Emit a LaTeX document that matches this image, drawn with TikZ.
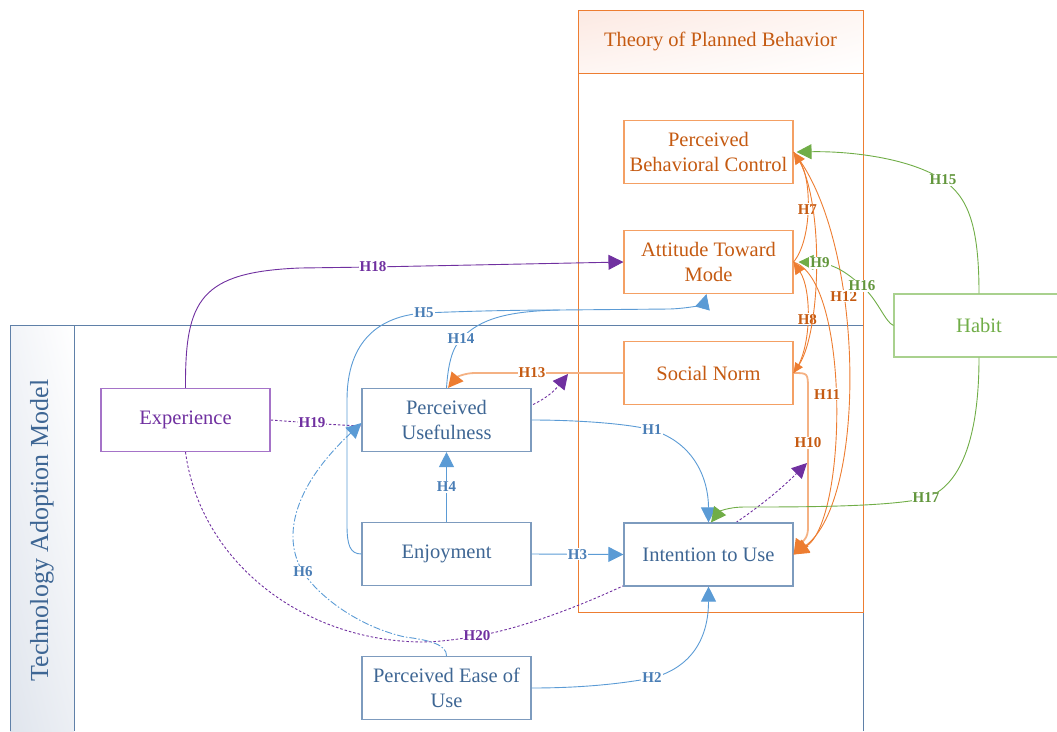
\documentclass[tikz,border=0pt]{standalone}
\usepackage{fontspec}
\setmainfont{Liberation Serif}
\usetikzlibrary{arrows.meta,shadings,backgrounds}
\definecolor{boxblue}{RGB}{125,155,190}
\definecolor{txtblue}{RGB}{62,102,148}
\definecolor{lineblue}{RGB}{91,155,213}
\definecolor{lblblue}{RGB}{74,126,182}
\definecolor{tamblue}{RGB}{95,128,168}
\definecolor{lineor}{RGB}{237,125,49}
\definecolor{lightor}{RGB}{244,177,131}
\definecolor{txtor}{RGB}{197,90,17}
\definecolor{boxor}{RGB}{244,160,100}
\definecolor{hdror}{RGB}{252,233,226}
\definecolor{hdrmid}{RGB}{254,246,243}
\definecolor{purp}{RGB}{112,48,160}
\definecolor{boxpurp}{RGB}{165,115,200}
\definecolor{grn}{RGB}{112,173,71}
\definecolor{boxgrn}{RGB}{169,209,142}
\definecolor{lblgrn}{RGB}{98,150,60}
\definecolor{stripa}{RGB}{242,244,248}
\definecolor{stripb}{RGB}{224,229,237}
\definecolor{stripc}{RGB}{236,239,244}
\begin{document}
\begin{tikzpicture}[x=1pt,y=-1pt,
  basebox/.style={draw,line width=1.1pt,fill=white,minimum width=169pt,minimum height=63pt,inner sep=0pt,align=center,font=\fontsize{20.5}{25}\selectfont},
  bluebox/.style={basebox,draw=boxblue,text=txtblue},
  orbox/.style={basebox,draw=boxor,text=txtor},
  purpbox/.style={basebox,draw=boxpurp,text=purp},
  grnbox/.style={basebox,draw=boxgrn,text=grn,minimum width=170pt},
  lbl/.style={fill=white,inner sep=1pt,font=\bfseries\fontsize{15}{16}\selectfont},
  bll/.style={lbl,text=lblblue},
  orl/.style={lbl,text=txtor},
  grl/.style={lbl,text=lblgrn},
  pul/.style={lbl,text=purp},
  bline/.style={draw=lineblue,line width=0.9pt},
  oline/.style={draw=lineor,line width=0.9pt},
  lline/.style={draw=lightor,line width=1.8pt},
  gline/.style={draw=grn,line width=0.9pt},
  pline/.style={draw=purp,line width=0.9pt,dash pattern=on 2.5pt off 2pt},
  bigtip/.style={-{Triangle[length=15pt,width=15pt]}},
  bigotip/.style={-{Triangle[length=15pt,width=15pt,color=lineor]}},
  midtip/.style={-{Triangle[length=12pt,width=11pt]}},
  smalltip/.style={-{Triangle[length=10pt,width=9pt]}},
]
\useasboundingbox (0,0) rectangle (1057,731);
\clip (0,0) rectangle (1057,731);

% nodes
\node[orbox] (PBC) at (708.5,152) {Perceived\\Behavioral Control};
\node[orbox] (ATM) at (708.5,262) {Attitude Toward\\Mode};
\node[orbox] (SN) at (708.5,373) {Social Norm};
\node[bluebox] (ITU) at (708.5,554.5) {Intention to Use};
\node[bluebox] (PU) at (446.5,420) {Perceived\\Usefulness};
\node[bluebox] (ENJ) at (446.5,554) {Enjoyment};
\node[bluebox] (PEOU) at (446.5,688) {Perceived Ease of\\Use};
\node[purpbox] (EXP) at (185.5,420) {Experience};
\node[grnbox] (HAB) at (979,325.5) {Habit};

\begin{scope}[on background layer]
  % Technology Adoption Model container
  \shade[upper left=stripa,lower left=stripb,upper right=white,lower right=stripc] (10,325) rectangle (74,731);
  \draw[tamblue,line width=1pt] (10,731) -- (10,325) -- (863,325) -- (863,731);
  \draw[tamblue,line width=1pt] (74,325) -- (74,731);
  \node[text=txtblue,rotate=90,font=\fontsize{26}{30}\selectfont] (tamt) at (42,530.5) {Technology Adoption Model};
  % Theory of Planned Behavior container
  \shade[upper left=hdror,lower left=hdrmid,upper right=hdrmid,lower right=white] (578,10) rectangle (863,73);
  \draw[lineor,line width=1pt] (578,10) rectangle (863,612);
  \draw[lineor,line width=1pt] (578,73) -- (863,73);
  \node[text=txtor,font=\fontsize{20.5}{25}\selectfont] (tpbt) at (720.5,41.5) {Theory of Planned Behavior};
  % H19, H20 run behind the boxes
  \draw[pline,bigtip] (EXP.east) -- (312,423) node[pul]{H19} .. controls (460,435) and (535,415) .. (568,374);
  \draw[pline,bigtip] (EXP.south) .. controls (200,560) and (300,640) .. (420,642) .. controls (440,642) and (460,639) .. (477,636) node[pul]{H20} .. controls (560,622) and (720,550) .. (807,463);
\end{scope}

% TAM connectors
\draw[bline,bigtip] (PU.east) .. controls (580,420) and (630,424) .. (652,430) node[bll]{H1} .. controls (695,443) and (708.5,480) .. (ITU.north);
\draw[bline,bigtip] (PEOU.east) .. controls (580,688) and (620,684) .. (652,678) node[bll]{H2} .. controls (690,668) and (708.5,640) .. (ITU.south);
\draw[bline,bigtip] (ENJ.east) -- node[bll]{H3} (ITU.west);
\draw[bline,bigtip] (ENJ.north) -- node[bll]{H4} (PU.south);
\draw[bline,bigtip] (ENJ.west) .. controls (350,554) and (347,545) .. (347,525) -- (347,400) .. controls (347,340) and (380,316) .. (424,313) node[bll]{H5} .. controls (470,311) and (520,310) .. (560,310) -- (670,309) .. controls (695,308) and (704,303) .. ([xshift=-2pt]ATM.south);
\draw[bline] (PU.north) .. controls (448,365) and (452,348) .. (461,339) node[bll]{H14} .. controls (480,318) and (510,311) .. (560,310);
\draw[bline,dash pattern=on 7pt off 2pt on 1.5pt off 2pt,bigtip] (PEOU.north) .. controls (447,645) and (430,640) .. (405,637) .. controls (360,627) and (320,598) .. (303,572) node[bll]{H6} .. controls (283,540) and (290,490) .. ([yshift=-3pt]PU.west);

% TPB connectors
\draw[lline,bigotip] (SN.west) -- (532,373) node[orl]{H13} -- (475,373) .. controls (465,373) and (457,377) .. ([xshift=1.5pt]PU.north);
\draw[lline,bigotip] (SN.east) .. controls (808,373) .. (808,390) -- (808,443) node[orl]{H10} -- (808,528) .. controls (808,538) and (803,541) .. (ITU.east);
\draw[oline,midtip] (ATM.east) .. controls (812,240) and (812,180) .. (PBC.east) node[orl,pos=0.5]{H7};
\draw[oline,midtip] (SN.east) .. controls (812,350) and (812,290) .. (ATM.east) node[orl,pos=0.5]{H8};
\draw[oline,bigtip] (ATM.east) .. controls (850,280) and (848,520) .. (ITU.east) node[orl,pos=0.48,xshift=-8pt]{H11};
\draw[oline,bigtip] (PBC.east) .. controls (865,240) and (868,500) .. (ITU.east) node[orl,pos=0.36]{H12};

% Habit connectors
\draw[gline,bigtip] (HAB.north) .. controls (979,225) and (968,197) .. (943,180) node[grl]{H15} .. controls (910,158) and (850,151) .. ([xshift=3pt]PBC.east);
\draw[gline,bigtip] (HAB.west) .. controls (885,322) and (878,300) .. (862,286) node[grl]{H16} .. controls (848,274) and (835,263) .. ([xshift=5pt]ATM.east);
\draw[gline,bigtip] (HAB.south) .. controls (979,440) and (960,486) .. (926,498) node[grl]{H17} .. controls (890,507) and (800,507) .. (745,507) .. controls (727,507) and (719,512) .. ([xshift=2.5pt]ITU.north);
\draw[oline,smalltip] (PBC.east) .. controls (825,190) and (822,330) .. (SN.east) node[grl,pos=0.5,xshift=4pt,yshift=-2pt]{H9};

% Experience to attitude
\draw[draw=purp,line width=0.9pt,bigtip] (EXP.north) .. controls (185,300) and (200,272) .. (300,268) -- (373,267) node[pul]{H18} -- (ATM.west);
\end{tikzpicture}
\end{document}
